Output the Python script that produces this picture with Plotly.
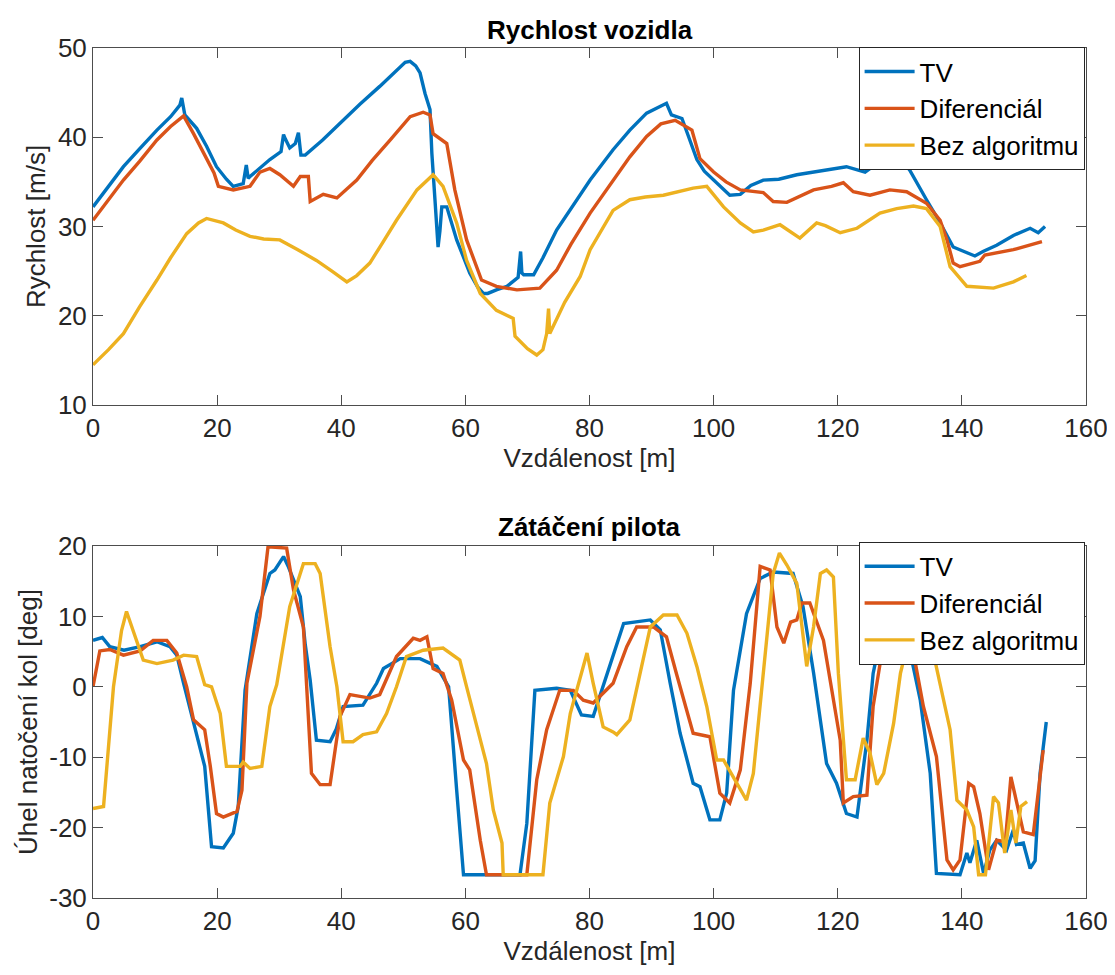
import plotly.graph_objects as go

# ---------------- Data: vehicle speed [m/s] vs distance [m] ----------------
tv_speed_x = [0, 2.5, 4.9, 7.5, 10.3, 12.5, 14.0, 14.3, 14.8, 16.7, 18.3, 19.9, 21.5, 22.6, 24.2, 24.7, 25.0,
              25.3, 27, 28.5, 30.3, 30.7, 31.0, 31.7, 32.6, 33.1, 33.5, 34.2, 37, 39.8, 43, 46.2, 49, 50.3,
              51.1, 52.0, 52.7, 53.5, 54.3, 54.6, 55.1, 55.6, 55.9, 56.2, 57.0, 58.6, 60.7, 62.0, 62.9, 63.6,
              65, 66.7, 68.5, 68.9, 69.1, 69.4, 71, 72.5, 74.7, 77.5, 80.1, 83.8, 86.5, 89.2, 91, 92.4, 93.2,
              94.9, 96, 97.3, 98.5, 100, 101.5, 102.6, 104.3, 106, 108, 110.5, 113.4, 116.1, 119, 121.4, 124.4,
              126.8, 129.5, 131.6, 134.3, 136.5, 138.6, 140.2, 142.1, 143.4, 145.6, 148.3, 151, 152.3, 153.4]
tv_speed_y = [32.2, 34.5, 36.7, 38.7, 40.8, 42.3, 43.6, 44.4, 42.5, 41.0, 39.0, 36.7, 35.3, 34.5, 34.8, 36.9, 35.4,
              35.6, 36.6, 37.5, 38.4, 40.3, 39.8, 38.8, 39.3, 40.5, 38.0, 38.0, 39.7, 41.6, 43.7, 45.7, 47.5, 48.4,
              48.5, 48.0, 47.2, 44.9, 43.1, 38.2, 33.0, 27.7, 29.5, 32.2, 32.2, 28.5, 24.8, 23.2, 22.5, 22.5,
              22.9, 23.3, 24.3, 27.2, 24.8, 24.6, 24.6, 26.5, 29.6, 32.5, 35.2, 38.6, 40.8, 42.7, 43.3, 43.8, 42.5,
              42.1, 40.0, 37.5, 36.2, 35.2, 34.2, 33.5, 33.6, 34.6, 35.2, 35.3, 35.8, 36.1, 36.5, 36.7, 36.1,
              37.3, 38.2, 36.3, 33.0, 30.4, 27.7, 27.2, 26.7, 27.2, 27.9, 29.0, 29.8, 29.3, 30.0]

dif_speed_x = [0, 2.5, 4.9, 7.5, 10.3, 12.5, 14.6, 16.2, 17.8, 19.5, 20.2, 22.6, 25.3, 26.9, 28.5, 30.1, 32.3,
               33.4, 34.7, 35.0, 37.1, 39.3, 42.5, 45, 47.9, 51.1, 53.2, 54.3, 54.8, 57, 58.3, 60.2, 62.6, 65,
               68.3, 72, 74.7, 77, 80.1, 83.8, 86.5, 89.2, 91.5, 93.8, 96.5, 97.8, 100, 102, 104.3, 108, 109.6,
               111.8, 114, 116.1, 119, 120.9, 122.5, 125.2, 128.4, 131.1, 134.3, 136.5, 137.6, 138.6, 139.7,
               142.9, 143.7, 148.3, 152.9]
dif_speed_y = [30.7, 33.0, 35.2, 37.3, 39.7, 41.2, 42.4, 40.4, 38.2, 36.0, 34.5, 34.1, 34.5, 36.1, 36.5, 35.8, 34.5,
               35.6, 35.6, 32.8, 33.6, 33.2, 35.2, 37.4, 39.7, 42.3, 42.8, 42.5, 40.4, 39.3, 34.1, 28.5, 24.0, 23.3,
               22.9, 23.1, 25.1, 28.0, 31.5, 35.2, 37.8, 40.1, 41.5, 41.9, 40.8, 37.6, 36.1, 35.0, 34.1, 33.8, 32.8,
               32.7, 33.4, 34.1, 34.5, 34.9, 33.9, 33.5, 34.1, 33.9, 32.6, 30.7, 28.5, 25.9, 25.5,
               26.1, 26.8, 27.4, 28.3]

bez_speed_x = [0, 2.5, 4.9, 7.5, 10.3, 12.5, 15.1, 17, 18.3, 21, 23, 25.3, 27.5, 30.1, 33, 36, 38.5, 40.9, 42.5,
               44.6, 46.5, 48.9, 52.2, 54.8, 56.4, 58.6, 60.2, 62.4, 65, 67.7, 68.0, 70, 71.5, 72.5, 73.1, 73.4,
               73.6, 76, 78.5, 80.1, 83.8, 86.5, 89, 91.9, 96.7, 98.9, 101.6, 104.3, 106.4, 108, 110.7, 113.9,
               116.6, 118, 120.4, 123.1, 126.8, 129.5, 132.2, 134.3, 136.5, 138.1, 140.8, 143, 145.1, 148.3, 150.4]
bez_speed_y = [14.5, 16.2, 18.0, 21.0, 24.0, 26.5, 29.2, 30.4, 30.9, 30.4, 29.6, 28.9, 28.6, 28.5, 27.4, 26.2, 25.0,
               23.8, 24.5, 25.9, 28.0, 30.7, 34.1, 35.8, 34.5, 30.4, 26.2, 22.5, 20.6, 19.7, 17.7, 16.3, 15.6, 16.2,
               18.0, 20.8, 18.0, 21.5, 24.4, 27.4, 31.8, 33.0, 33.3, 33.5, 34.3, 34.5, 32.2, 30.4, 29.4, 29.6, 30.2,
               28.7, 30.4, 30.1, 29.3, 29.8, 31.5, 32.0, 32.3, 32.0, 30.0, 25.5, 23.3, 23.2, 23.1, 23.8, 24.5]

# ---------------- Data: steering angle [deg] vs distance [m] ----------------
tv_angle_x = [0, 1.5, 2.7, 5, 7.6, 10.3, 12.4, 13.5, 14.6, 16.7, 18, 19.1, 21, 22.6, 23.4, 24.5, 26.4, 28.5, 29.3,
              30.7, 31.5, 33.4, 34.2, 35, 36, 38.2, 39.2, 40.3, 43.5, 45.7, 46.8, 49.5, 52.7, 55.4, 57.3, 58.6,
              59.7, 68.8, 69.9, 71.2, 74.7, 76.9, 78.7, 80.6, 82.2, 85.5, 89.8, 91.4, 93, 94.6, 96.7, 97.8, 99.4,
              101, 102.1, 103.2, 105.3, 107.5, 109.6, 112.8, 114.4, 116.1, 118.2, 119.8, 121.4, 123.1, 124.7,
              125.7, 126.8, 128, 130, 131.6, 133.3, 134.9, 135.9, 139.7, 140.8, 141.3, 142.4, 143.5, 144.5,
              145.6, 147.2, 148.3, 148.8, 149.9, 151, 151.8, 152.6, 153.6]
tv_angle_y = [6.6, 7.0, 5.7, 5.2, 5.7, 6.4, 5.7, 4.5, 0.5, -6.6, -11.3, -22.7, -22.9, -20.8, -17, -0.5, 10.4, 16.1, 16.6,
              18.5, 17, 12.8, 6, 0.9, -7.6, -7.8, -6, -2.8, -2.6, 0.5, 2.6, 4.0, 4.0, 2.9, 0, -14.7,
              -26.7, -26.7, -19.4, -0.5, -0.2, -0.5, -4, -4.2, 0, 9.0, 9.5, 8.1, 0.5, -6.6, -13.7, -14.2, -18.9,
              -18.9, -15.1, -0.5, 10.4, 15.4, 16.3, 16.1, 11.4, 2, -10.9, -13.7, -18, -18.5, -7.6,
              1.9, 6.6, 10, 10, 5.2, -1.9, -12.3, -26.5, -26.7, -23.6, -25, -21.8, -26.5, -23.2,
              -21.8, -23.2, -20.3, -22.4, -22.2, -25.8, -24.7, -12.3, -5]

dif_angle_x = [0, 1.1, 2.7, 4.9, 7.6, 9.7, 11.9, 13.5, 15.1, 16.2, 18, 18.9, 19.9, 21, 23.2, 24, 24.8, 26.9, 28.2,
               31.2, 32.3, 33.9, 35.2, 36.6, 38.2, 39.8, 41.4, 44.6, 46.2, 48.9, 51.6, 52.7, 53.8, 54.8, 56.4,
               57.8, 59.7, 60.7, 62.4, 63.4, 69.9, 71.5, 73.1, 75.2, 77.4, 79, 80.6, 83.8, 86, 87.6, 90.3, 92.4,
               94, 96.7, 99.4, 101, 102.6, 104.3, 105.9, 107.5, 109.1, 110.2, 111.3, 112.4, 113.4, 114.2, 115.5,
               117.7, 120.4, 120.9, 122.5, 124.7, 125.7, 127.1, 128.5, 130.5, 132.2, 133.8, 135.9, 137.6, 138.6,
               139.7, 141.1, 141.9, 142.9, 144.3, 145.6, 147, 147.9, 148.7, 149.9, 151.5, 153.1]
dif_angle_y = [0, 5.1, 5.3, 4.5, 5.1, 6.6, 6.6, 4.8, 0, -4.7, -6.1, -11.3, -18, -18.5, -17.7, -14.7, 0.5, 10, 19.9,
               19.7, 13.8, 8.5, -12.3, -13.9, -13.9, -4.2, -1.1, -1.6, -1.1, 4.3, 6.9, 6.6, 7.1, 2.6, 1.9,
               -1.9, -10.4, -11.8, -21.8, -26.7, -26.7, -13.2, -6.1, -0.5, -0.5, -1.9, -2.3, 0.5, 5.7, 8.5, 8.5, 7.1,
               1.9, -6.6, -7.1, -15.1, -16.5, -11.8, 0.5, 17.1, 16.6, 8.5, 6.2, 9.2, 9.5, 11.9, 11.9,
               6.6, -7.6, -16.5, -15.6, -15.4, -2.8, 4.8, 9, 9, 4.8, -2.8, -9.9, -24.6, -26,
               -24.6, -13.7, -14.2, -18, -26, -21.8, -22, -12.8, -16.1, -20.6, -21, -9]

bez_angle_x = [0, 1.7, 3.3, 4.6, 5.4, 6.8, 8.1, 10.3, 12.9, 14.6, 16.7, 18, 19.1, 20.5, 21.5, 23.7, 24.2, 25.3, 27.2,
               28.5, 29.6, 31.7, 33.9, 35.8, 36.6, 38.2, 39.3, 40.3, 41.9, 43.5, 45.7, 47.3, 48.9, 50.5, 53.2, 56.4,
               58, 59.1, 60.2, 61.8, 63.4, 64.5, 65.9, 66.1, 72.5, 73.6, 74.4, 75.8, 76.9, 79.6, 80.6, 82.2, 83.8,
               84.4, 86.5, 88.1, 89.8, 91.9, 94.1, 95.7, 97.3, 98.9, 100.5, 101.6, 103.2, 105.3, 106.4, 108, 109.6,
               110.6, 111.8, 113.4, 115, 116.1, 117.2, 118.2, 119.3, 120.1, 121.4, 122.8, 124.1, 125.2, 126.3,
               127.4, 129, 130.1, 131.5, 133, 134.2, 135.4, 136.5, 138.1, 139.2, 140.8, 141.9, 142.7, 143.8, 145.1,
               145.9, 146.9, 147.9, 148.7, 149.5, 150.5]
bez_angle_y = [-17.3, -17, 0, 8, 10.7, 7.1, 3.8, 3.3, 3.8, 4.5, 4.3, 0.3, 0, -3.8, -11.3, -11.3, -10.7, -11.6, -11.3,
               -2.8, 0.3, 11.4, 17.5, 17.5, 16.1, 5.7, 0, -7.8, -7.8, -6.8, -6.4, -3.8, 0, 4.3, 5.2, 5.5,
               4.5, 3.8, 0, -5.7, -10.9, -17.5, -22.2, -26.7, -26.7, -16.5, -14.2, -9.9, -3.8, 4.8, 0.5, -5.7, -6.4,
               -6.8, -4.7, 1.9, 8.5, 10.2, 10.2, 7.6, 2.9, -2.8, -10.4, -10.4, -12.8, -16.1, -12.3, 1.9, 16.1,
               19, 17.3, 14.7, 2.9, 8.5, 16.1, 16.6, 15.6, 1.9, -13.2, -13.2, -7.3, -9.4, -13.9,
               -12.3, -5.2, 1.9, 7, 10, 9, 4.8, 0.5, -6.1, -16.1, -17.5, -19.9, -26.7, -26.7, -15.6,
               -16.5, -23.6, -17.5, -22.2, -17, -16.3]

# ---------------- Tick labels ----------------
x_ticks = [0, 20, 40, 60, 80, 100, 120, 140, 160]
speed_ticks = [10, 20, 30, 40, 50]
angle_ticks = [-30, -20, -10, 0, 10, 20]
angle_tick_text = ["-30", "-20", "-10", "0", "10", "20"]

names = ["TV", "Diferenciál", "Bez algoritmu"]
colors = ["#0072BD", "#D95319", "#EDB120"]

FONT = "Liberation Sans, Arial, Helvetica, sans-serif"
TXT = "#262626"
LINE = "#4d4d4d"
FS = 26

fig = go.Figure()

top = [(tv_speed_x, tv_speed_y), (dif_speed_x, dif_speed_y), (bez_speed_x, bez_speed_y)]
bot = [(tv_angle_x, tv_angle_y), (dif_angle_x, dif_angle_y), (bez_angle_x, bez_angle_y)]

for (x, y), n, c in zip(top, names, colors):
    fig.add_trace(go.Scatter(x=x, y=y, name=n, mode="lines", line=dict(color=c, width=3.4),
                             xaxis="x", yaxis="y", legend="legend"))
for (x, y), n, c in zip(bot, names, colors):
    fig.add_trace(go.Scatter(x=x, y=y, name=n, mode="lines", line=dict(color=c, width=3.4),
                             xaxis="x2", yaxis="y2", legend="legend2"))

axis_common = dict(showline=True, linecolor=LINE, linewidth=1, mirror="ticks", ticks="inside",
                   ticklen=10, tickcolor=LINE, showgrid=False, zeroline=False, automargin=False,
                   tickfont=dict(family=FONT, size=FS, color=TXT),
                   title_font=dict(family=FONT, size=FS, color=TXT))

legend_common = dict(xanchor="left", yanchor="top", bgcolor="white", bordercolor=TXT, borderwidth=1,
                     font=dict(family=FONT, size=FS, color="black"), tracegroupgap=0, itemwidth=50)

# page body has an 8px margin, so the figure is 8px smaller and margins shifted
fig.update_layout(
    width=1107, height=967,
    margin=dict(l=85, r=29, t=40, b=77, autoexpand=False),
    paper_bgcolor="white", plot_bgcolor="white",
    font=dict(family=FONT, color=TXT),
    xaxis=dict(domain=[0, 1], anchor="y", range=[0, 160], tickvals=x_ticks,
               title=dict(text="Vzdálenost [m]", standoff=2), **axis_common),
    yaxis=dict(domain=[0.58, 1.0], anchor="x", range=[10, 50], tickvals=speed_ticks,
               title=dict(text="Rychlost [m/s]", standoff=4), **axis_common),
    xaxis2=dict(domain=[0, 1], anchor="y2", range=[0, 160], tickvals=x_ticks,
                title=dict(text="Vzdálenost [m]", standoff=2), **axis_common),
    yaxis2=dict(domain=[0, 0.4141], anchor="x2", range=[-30, 20], tickvals=angle_ticks,
                ticktext=angle_tick_text,
                title=dict(text="Úhel natočení kol [deg]", standoff=4), **axis_common),
    legend=dict(x=0.771, y=1.001, **legend_common),
    legend2=dict(x=0.771, y=0.419, **legend_common),
    annotations=[
        dict(text="<b>Rychlost vozidla</b>", x=0.5, y=1.021, xref="paper", yref="paper",
             xanchor="center", yanchor="middle", showarrow=False,
             font=dict(family=FONT, size=FS, color="black")),
        dict(text="<b>Zátáčení pilota</b>", x=0.5, y=0.4365, xref="paper", yref="paper",
             xanchor="center", yanchor="middle", showarrow=False,
             font=dict(family=FONT, size=FS, color="black")),
    ],
)

fig.write_html("out.html")
